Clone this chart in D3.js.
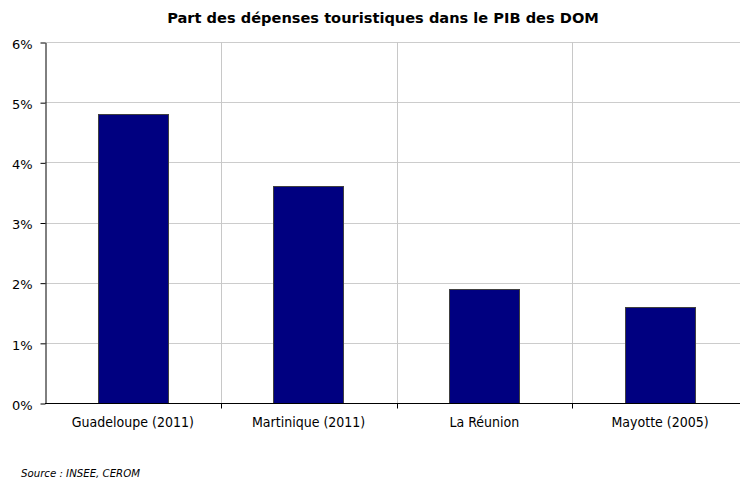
<!DOCTYPE html>
<html>
<head>
<meta charset="utf-8">
<script src="https://cdn.jsdelivr.net/npm/d3@7"></script>
<style>
  body { margin: 0; background: #fff; }
  svg text { font-family: "DejaVu Sans", Verdana, sans-serif; }
  svg text.cat { font-family: "DejaVu Sans Condensed", "DejaVu Sans", sans-serif; font-stretch: condensed; }
</style>
</head>
<body>
<div id="chart"></div>
<script>
// données
const categories = ["Guadeloupe (2011)", "Martinique (2011)", "La Réunion", "Mayotte (2005)"]
const values = [4.8, 3.6, 1.9, 1.6]
const yTicks = [0, 1, 2, 3, 4, 5, 6]
const title = "Part des dépenses touristiques dans le PIB des DOM"
const source = "Source : INSEE, CEROM"

const width = 740, height = 479
const margin = {top: 42, right: -8, bottom: 76, left: 45}

const svg = d3.select("#chart")
              .append("svg")
              .attr("width", width)
              .attr("height", height)

const x = d3.scaleBand()
            .domain(categories)
            .range([margin.left, width - margin.right])
            .paddingInner(0)
            .paddingOuter(0)

const y = d3.scaleLinear()
            .domain([0, 6])
            .range([height - margin.bottom, margin.top])

// grille horizontale
svg.append("g")
   .selectAll("line")
   .data(yTicks.filter(d => d > 0))
   .join("line")
   .attr("x1", margin.left)
   .attr("x2", width - margin.right)
   .attr("y1", d => Math.round(y(d)) + 0.5)
   .attr("y2", d => Math.round(y(d)) + 0.5)
   .attr("stroke", "#cccccc")

// grille verticale
svg.append("g")
   .selectAll("line")
   .data(categories.slice(1))
   .join("line")
   .attr("x1", d => Math.round(x(d)) + 0.5)
   .attr("x2", d => Math.round(x(d)) + 0.5)
   .attr("y1", y(6))
   .attr("y2", y(0))
   .attr("stroke", "#c8c8c8")

// barres
const barW = x.bandwidth() * 0.4
svg.append("g")
   .selectAll("rect")
   .data(values)
   .join("rect")
   .attr("x", (d, i) => Math.round(x(categories[i]) + (x.bandwidth() - barW) / 2) + 0.5)
   .attr("y", d => Math.round(y(d)) + 0.5)
   .attr("width", Math.round(barW))
   .attr("height", d => Math.round(y(0)) - Math.round(y(d)))
   .attr("fill", "#000080")
   .attr("stroke", "#404040")
   .attr("stroke-width", 1)

// axe Y
const yAxis = svg.append("g")
                 .attr("transform", `translate(${margin.left + 0.5}, 0.5)`)
                 .call(d3.axisLeft(y).tickValues(yTicks).tickFormat(d => d + "%").tickSize(5).tickSizeOuter(0))
yAxis.select(".domain").attr("stroke", "#000")
yAxis.selectAll("text").attr("font-size", 13).attr("fill", "#000").attr("x", -13).attr("y", 1.5)

// axe X
const xAxis = svg.append("g")
                 .attr("transform", `translate(0, ${Math.round(y(0)) + 0.5})`)
xAxis.append("line")
     .attr("x1", margin.left)
     .attr("x2", width)
     .attr("stroke", "#000")
xAxis.selectAll(".tick")
     .data(categories.slice(1))
     .join("line")
     .attr("class", "tick")
     .attr("x1", d => Math.round(x(d)) + 0.5)
     .attr("x2", d => Math.round(x(d)) + 0.5)
     .attr("y1", 0)
     .attr("y2", 5)
     .attr("stroke", "#000")
xAxis.selectAll("text")
     .data(categories)
     .join("text")
     .attr("class", "cat")
     .attr("x", d => x(d) + x.bandwidth() / 2)
     .attr("y", 23)
     .attr("text-anchor", "middle")
     .attr("font-size", 14)
     .text(d => d)

// titre
svg.append("text")
   .attr("x", 383)
   .attr("y", 23)
   .attr("text-anchor", "middle")
   .attr("font-size", 14.6)
   .attr("font-weight", "bold")
   .text(title)

// source
svg.append("text")
   .attr("x", 21)
   .attr("y", 477)
   .attr("font-size", 10.2)
   .attr("font-style", "italic")
   .text(source)
</script>
</body>
</html>
